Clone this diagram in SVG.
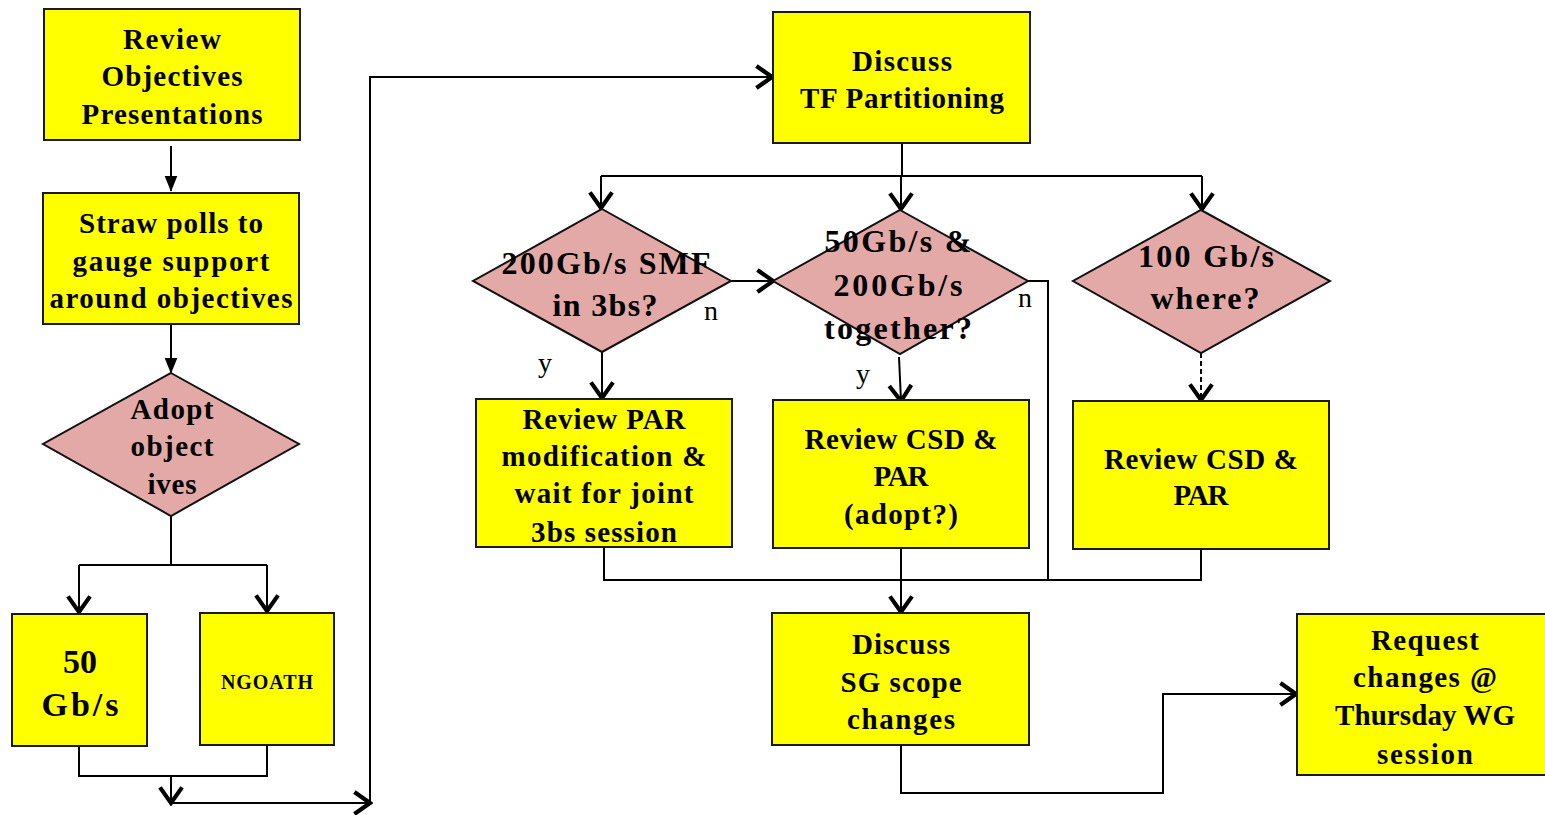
<svg xmlns="http://www.w3.org/2000/svg" width="1545" height="815" viewBox="0 0 1545 815">
<style>
.box{fill:#ffff00;stroke:#1a1a1a;stroke-width:2}
.dia{fill:#e2a9a7;stroke:#111;stroke-width:2}
.t{font-family:"Liberation Serif","Times New Roman",serif;font-weight:bold;font-size:29px;fill:#000;text-anchor:middle}
.d{font-size:32px}
.lbl{font-family:"Liberation Serif","Times New Roman",serif;font-size:28px;fill:#000;text-anchor:middle}
.c{fill:none;stroke:#000;stroke-width:2}
.v{marker-end:url(#vee)}
.f{marker-end:url(#tri)}
</style>
<defs>
<marker id="vee" viewBox="0 0 20 20" refX="18" refY="10" markerWidth="26" markerHeight="26" markerUnits="userSpaceOnUse" orient="auto">
<path d="M6,1.5 L18,10 L6,18.5" fill="none" stroke="#000" stroke-width="3.2"/>
</marker>
<marker id="tri" viewBox="0 0 20 20" refX="19" refY="10" markerWidth="16" markerHeight="16" markerUnits="userSpaceOnUse" orient="auto">
<path d="M0,2 L20,10 L0,18 Z" fill="#000"/>
</marker>
</defs>

<g id="connectors">
<path class="c f" d="M171,146 L171,191"/>
<path class="c f" d="M171,324 L171,373"/>
<path class="c" d="M171,516 L171,565 M79,565 L267,565"/>
<path class="c v" d="M79,565 L79,612"/>
<path class="c v" d="M267,565 L267,611"/>
<path class="c" d="M79,746 L79,776 L267,776 L267,745"/>
<path class="c v" d="M171,776 L171,803"/>
<path class="c v" d="M171,803 L370,803"/>
<path class="c v" d="M370,803 L370,77 L772,77"/>
<path class="c" d="M902,143 L902,176 M601,176 L1202,176"/>
<path class="c v" d="M601,176 L601,208"/>
<path class="c v" d="M901,176 L901,209"/>
<path class="c v" d="M1202,176 L1202,209"/>
<path class="c v" d="M731,281 L773,281"/>
<path class="c" d="M1028,281 L1048,281 L1048,580"/>
<path class="c v" d="M602,352 L602,398"/>
<path class="c v" d="M899,357 L901,401"/>
<path class="c v" d="M1201,353 L1201,400" stroke-dasharray="5,3"/>
<path class="c" d="M604,547 L604,580 L1201,580 L1201,549"/>
<path class="c v" d="M901,548 L901,612"/>
<path class="c v" d="M901,745 L901,793 L1163,793 L1163,694 L1296,694"/>
</g>

<g id="review-objectives">
<rect class="box" x="44" y="9" width="256" height="131"/>
<text class="t" x="172" y="49" textLength="98">Review</text>
<text class="t" x="172" y="86" textLength="141">Objectives</text>
<text class="t" x="172" y="124" textLength="181">Presentations</text>
</g>

<g id="straw-polls">
<rect class="box" x="43" y="193" width="256" height="131"/>
<text class="t" x="171" y="233" textLength="184">Straw polls to</text>
<text class="t" x="171" y="271" textLength="197">gauge support</text>
<text class="t" x="171" y="308" textLength="243">around objectives</text>
</g>

<g id="adopt-objectives">
<polygon class="dia" points="171,373 299,444 171,516 43,444"/>
<text class="t" x="172" y="419" textLength="83">Adopt</text>
<text class="t" x="172" y="456" textLength="83">object</text>
<text class="t" x="172" y="494" textLength="49">ives</text>
</g>

<g id="box-50g">
<rect class="box" x="12" y="614" width="135" height="132"/>
<text class="t" x="80" y="673" style="font-size:34px" textLength="34">50</text>
<text class="t" x="80" y="716" style="font-size:34px" textLength="77">Gb/s</text>
</g>

<g id="box-ngoath">
<rect class="box" x="200" y="613" width="134" height="132"/>
<text class="t" x="267" y="689" style="font-size:20px" textLength="92">NGOATH</text>
</g>

<g id="discuss-tf">
<rect class="box" x="773" y="12" width="257" height="131"/>
<text class="t" x="902" y="71" textLength="100">Discuss</text>
<text class="t" x="902" y="108" textLength="204">TF Partitioning</text>
</g>

<g id="dec-200g-smf">
<polygon class="dia" points="602,209 731,281 602,352 473,281"/>
<text class="t d" x="606" y="274" textLength="209">200Gb/s SMF</text>
<text class="t d" x="605" y="316" textLength="105">in 3bs?</text>
<text class="lbl" x="711" y="320">n</text>
<text class="lbl" x="545" y="372">y</text>
</g>

<g id="dec-50-200">
<polygon class="dia" points="900,210 1028,281 900,354 773,281"/>
<text class="t d" x="898" y="252" textLength="147">50Gb/s &amp;</text>
<text class="t d" x="898" y="296" textLength="129">200Gb/s</text>
<text class="t d" x="898" y="339" textLength="148">together?</text>
<text class="lbl" x="1025" y="307">n</text>
<text class="lbl" x="863" y="383">y</text>
</g>

<g id="dec-100g">
<polygon class="dia" points="1201,210 1330,281 1201,353 1073,281"/>
<text class="t d" x="1206" y="267" textLength="136">100 Gb/s</text>
<text class="t d" x="1205" y="309" textLength="109">where?</text>
</g>

<g id="review-par-mod">
<rect class="box" x="476" y="399" width="256" height="148"/>
<text class="t" x="604" y="429" textLength="163">Review PAR</text>
<text class="t" x="604" y="466" textLength="205">modification &amp;</text>
<text class="t" x="604" y="503" textLength="179">wait for joint</text>
<text class="t" x="604" y="542" textLength="146">3bs session</text>
</g>

<g id="review-csd-adopt">
<rect class="box" x="773" y="400" width="256" height="148"/>
<text class="t" x="901" y="449" textLength="193">Review CSD &amp;</text>
<text class="t" x="901" y="486" textLength="55">PAR</text>
<text class="t" x="901" y="524" textLength="114">(adopt?)</text>
</g>

<g id="review-csd">
<rect class="box" x="1073" y="401" width="256" height="148"/>
<text class="t" x="1201" y="469" textLength="194">Review CSD &amp;</text>
<text class="t" x="1201" y="505" textLength="55">PAR</text>
</g>

<g id="discuss-sg">
<rect class="box" x="772" y="613" width="257" height="132"/>
<text class="t" x="901" y="654" textLength="98">Discuss</text>
<text class="t" x="901" y="692" textLength="121">SG scope</text>
<text class="t" x="901" y="729" textLength="108">changes</text>
</g>

<g id="request-changes">
<rect class="box" x="1297" y="614" width="250" height="161"/>
<text class="t" x="1425" y="650" textLength="108">Request</text>
<text class="t" x="1425" y="687" textLength="144">changes @</text>
<text class="t" x="1425" y="725" textLength="180">Thursday WG</text>
<text class="t" x="1425" y="764" textLength="96">session</text>
</g>
</svg>
